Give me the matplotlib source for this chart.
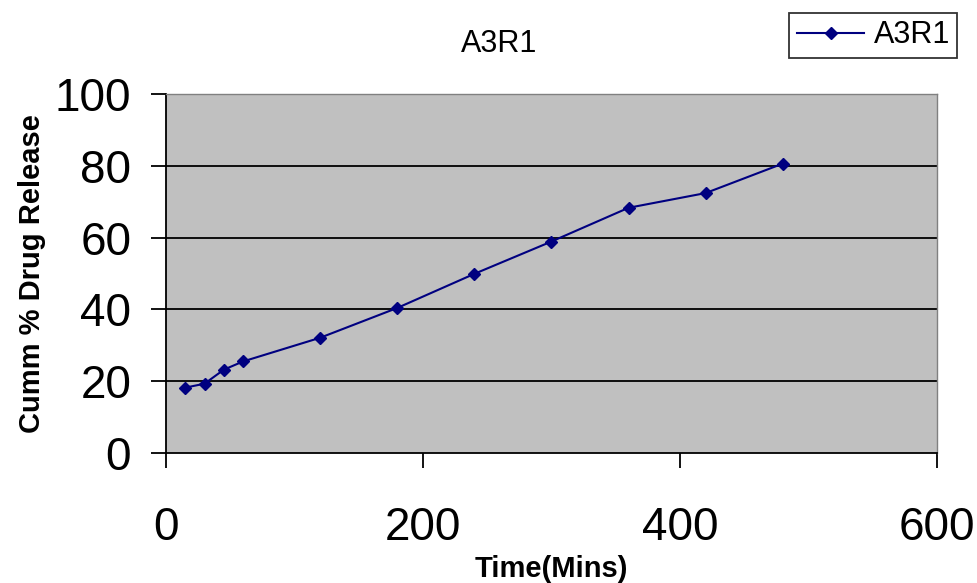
import matplotlib.pyplot as plt

plt.rcParams['font.family'] = ['Liberation Sans', 'DejaVu Sans']

# Time (mins) and cumulative % drug release
time_min = [15, 30, 45, 60, 120, 180, 240, 300, 360, 420, 480]
release = [18.2, 19.3, 23.2, 25.5, 32.1, 40.4, 49.9, 58.9, 68.3, 72.4, 80.6]

x_ticks = [0, 200, 400, 600]
y_ticks = [0, 20, 40, 60, 80, 100]

fig = plt.figure(figsize=(9.78, 5.83), dpi=100)
ax = fig.add_axes([0.1697, 0.223, 0.7883, 0.6158])
ax.set_facecolor('#C0C0C0')

# horizontal grid lines
for yv in y_ticks[1:]:
    ax.axhline(yv, color='black', lw=1.3, zorder=1)

ax.plot(time_min, release, color='#000080', lw=1.5, marker='D', ms=6.5,
        label='A3R1', zorder=3)

ax.set_xlim(0, 600)
ax.set_ylim(0, 100)
ax.set_xticks(x_ticks)
ax.set_yticks(y_ticks)
ax.tick_params(axis='both', direction='out', length=11, width=1.3,
               labelsize=33, color='black')
ax.tick_params(axis='x', pad=27)
ax.tick_params(axis='y', pad=14)

for s in ['left', 'bottom']:
    ax.spines[s].set_color('black')
    ax.spines[s].set_linewidth(1.3)
for s in ['top', 'right']:
    ax.spines[s].set_color('#808080')
    ax.spines[s].set_linewidth(1.0)

ax.set_xlabel('Time(Mins)', fontsize=21, fontweight='bold', labelpad=4)
ax.set_ylabel('Cumm % Drug Release', fontsize=21, fontweight='bold', labelpad=6)

fig.text(0.510, 0.9245, 'A3R1', fontsize=22, ha='center', va='center')

leg = fig.legend(loc='upper right', bbox_to_anchor=(0.979, 0.978),
                 fontsize=22, frameon=True, fancybox=False, handlelength=2.2,
                 borderpad=0.25, handletextpad=0.3, borderaxespad=0)
leg.get_frame().set_edgecolor('black')
leg.get_frame().set_linewidth(1.3)

fig.savefig('out.png', dpi=100)
